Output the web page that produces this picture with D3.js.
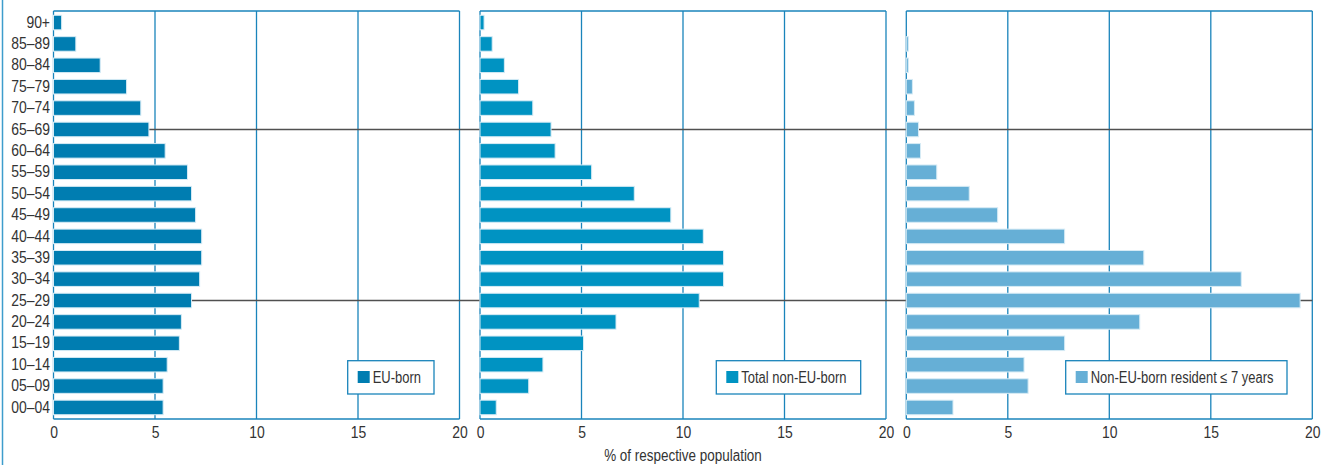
<!DOCTYPE html>
<html>
<head>
<meta charset="utf-8">
<script src="https://cdn.jsdelivr.net/npm/d3@7"></script>
<style>
  html, body { margin: 0; padding: 0; background: #fff; }
  svg { display: block; }
  text { font-family: "Liberation Sans", Arial, sans-serif; fill: #333; }
</style>
</head>
<body>
<svg id="chart" width="1333" height="465"></svg>
<script>
// ---- Data ----
const ageGroups = ["90+","85–89","80–84","75–79","70–74","65–69","60–64","55–59","50–54","45–49","40–44","35–39","30–34","25–29","20–24","15–19","10–14","05–09","00–04"];
const euBorn      = [0.4,1.1,2.3,3.6,4.3,4.7,5.5,6.6,6.8,7.0,7.3,7.3,7.2,6.8,6.3,6.2,5.6,5.4,5.4];
const nonEuBorn   = [0.2,0.6,1.2,1.9,2.6,3.5,3.7,5.5,7.6,9.4,11.0,12.0,12.0,10.8,6.7,5.1,3.1,2.4,0.8];
const recentNonEu = [0.0,0.1,0.1,0.3,0.4,0.6,0.7,1.5,3.1,4.5,7.8,11.7,16.5,19.4,11.5,7.8,5.8,6.0,2.3];
const seriesNames = ["EU-born","Total non-EU-born","Non-EU-born resident ≤ 7 years"];
const xTicks = [0,5,10,15,20];
const markerGroups = ["65–69","25–29"];
const xTitle = "% of respective population";

// ---- Layout ----
const colors = ["#007db1","#0093c2","#66afd6"];
const panelX = [[53.5,459.5],[480,886],[906.3,1312.3]];
const legendBoxes = [[347.7,434],[716.3,860.7],[1065.7,1287]];
const plotTop = 11, plotBottom = 419;
const gridColor = "#1a84bb";
const fontFam = '"Liberation Sans", Arial, sans-serif';

// condense text horizontally (reference uses a condensed face)
function condense(sel, factor) {
  sel.each(function() {
    const w = this.getComputedTextLength();
    if (w > 0) {
      d3.select(this).attr("textLength", w * factor).attr("lengthAdjust", "spacingAndGlyphs");
    }
  });
}

const svg = d3.select("#chart");

svg.append("line").attr("x1",2.5).attr("x2",2.5).attr("y1",0).attr("y2",465)
  .attr("stroke","#3d9dcc").attr("stroke-width",1.5);

const y = d3.scaleBand().domain(ageGroups).range([plotTop,plotBottom]).paddingInner(0.32).paddingOuter(0.2);

const allSeries = [euBorn, nonEuBorn, recentNonEu];

allSeries.forEach((vals, i) => {
  const x = d3.scaleLinear().domain([0,20]).range(panelX[i]);
  const g = svg.append("g");
  g.selectAll("line.grid").data(xTicks).join("line")
    .attr("class","grid")
    .attr("x1",d=>x(d)).attr("x2",d=>x(d))
    .attr("y1",plotTop).attr("y2",plotBottom)
    .attr("stroke",gridColor).attr("stroke-width",1.3);
  g.append("line").attr("x1",x(0)).attr("x2",x(20)).attr("y1",plotTop).attr("y2",plotTop)
    .attr("stroke",gridColor).attr("stroke-width",1.3);
  g.append("line").attr("x1",x(0)).attr("x2",x(20)).attr("y1",plotBottom).attr("y2",plotBottom)
    .attr("stroke",gridColor).attr("stroke-width",1.3);
});

svg.selectAll("line.marker").data(markerGroups).join("line")
  .attr("class","marker")
  .attr("x1",panelX[0][0]).attr("x2",panelX[2][1])
  .attr("y1",d=>y(d)+y.bandwidth()/2).attr("y2",d=>y(d)+y.bandwidth()/2)
  .attr("stroke","#505050").attr("stroke-width",1.6);

allSeries.forEach((vals, i) => {
  const x = d3.scaleLinear().domain([0,20]).range(panelX[i]);
  const g = svg.append("g");
  g.selectAll("rect").data(ageGroups).join("rect")
    .attr("x",x(0))
    .attr("y",d=>y(d))
    .attr("width",(d,k)=>Math.max(0,x(vals[k])-x(0)))
    .attr("height",y.bandwidth())
    .attr("fill",colors[i])
    .attr("stroke","#d6ebf5").attr("stroke-width",1);

  const axis = d3.axisBottom(x).tickValues(xTicks).tickSize(0).tickPadding(0).tickFormat(d3.format("d"));
  const ag = svg.append("g").attr("transform",`translate(0,${plotBottom})`).call(axis);
  ag.select(".domain").remove();
  ag.selectAll("text").attr("y",18.5).attr("dy",0).style("font-size","16px").attr("fill","#333")
    .style("font-family",fontFam).call(condense, 0.87);

  const [lx0,lx1] = legendBoxes[i];
  const lg = svg.append("g");
  lg.append("rect").attr("x",lx0).attr("y",360.7).attr("width",lx1-lx0).attr("height",33.3)
    .attr("fill","#fff").attr("stroke",gridColor).attr("stroke-width",1.3);
  lg.append("rect").attr("x",lx0+10).attr("y",371).attr("width",12).attr("height",12)
    .attr("fill",colors[i]);
  lg.append("text").attr("x",lx0+25).attr("y",383).style("font-size","16px").text(seriesNames[i])
    .call(condense, 0.81);
});

const yAxis = d3.axisLeft(y).tickSize(0).tickPadding(0);
const yg = svg.append("g").attr("transform",`translate(50,0)`).call(yAxis);
yg.select(".domain").remove();
yg.selectAll("text").style("font-size","16px").attr("fill","#333").style("font-family",fontFam)
  .call(condense, 0.87);

svg.append("text").attr("x",683).attr("y",461).attr("text-anchor","middle")
  .style("font-size","16px").text(xTitle).call(condense, 0.84);
</script>
</body>
</html>
